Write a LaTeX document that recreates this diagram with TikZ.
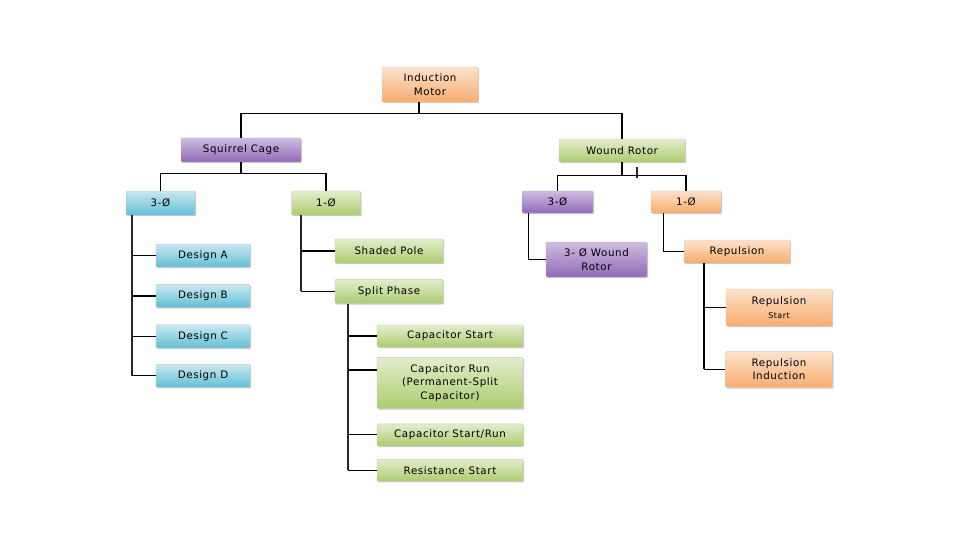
\documentclass[tikz,border=0pt]{standalone}
\usepackage{fontspec}
\setmainfont[LetterSpace=6]{DejaVu Sans}
\usepackage{tikz}
\usetikzlibrary{positioning, shadows}
\definecolor{OrangeBox}{RGB}{247,172,110}
\definecolor{PurpleBox}{RGB}{146,106,184}
\definecolor{BlueBox}{RGB}{98,190,214}
\definecolor{GreenBox}{RGB}{172,204,110}

\begin{document}
\begin{tikzpicture}[x=1pt, y=-1pt,
  box/.style={rounded corners=1pt, inner sep=1pt, align=center,
              font=\fontsize{10.3}{13.5}\selectfont,
              drop shadow={shadow xshift=1.2pt, shadow yshift=-1.2pt, opacity=0.4}},
  orangebox/.style={box, draw=OrangeBox!70!black!40, top color=OrangeBox!35, bottom color=OrangeBox},
  purplebox/.style={box, draw=PurpleBox!60!black!40, top color=PurpleBox!45, bottom color=PurpleBox},
  bluebox/.style={box, draw=BlueBox!60!black!40, top color=BlueBox!35, bottom color=BlueBox},
  greenbox/.style={box, draw=GreenBox!60!black!40, top color=GreenBox!35, bottom color=GreenBox},
  link/.style={draw=black, line width=1.2pt},
  trunk/.style={draw=black!85, line width=2pt},
]
\useasboundingbox (0,0) rectangle (960,540);

% top levels
\node[orangebox, minimum width=96pt, minimum height=35pt] (motor) at (430,84.5) {Induction\\Motor};
\node[purplebox, minimum width=120pt, minimum height=24pt] (squirrel) at (241,150) {Squirrel Cage};
\node[greenbox, minimum width=126pt, minimum height=23pt] (wound) at (622,150.5) {Wound Rotor};

% squirrel cage branch
\node[bluebox, minimum width=69pt, minimum height=24pt] (sq3) at (160.5,203) {3-Ø};
\node[greenbox, minimum width=69pt, minimum height=24pt] (sq1) at (326,203) {1-Ø};
\node[bluebox, minimum width=94pt, minimum height=23pt] (desA) at (203,255.5) {Design A};
\node[bluebox, minimum width=94pt, minimum height=23pt, below=17pt of desA] (desB) {Design B};
\node[bluebox, minimum width=94pt, minimum height=23pt, below=17pt of desB] (desC) {Design C};
\node[bluebox, minimum width=94pt, minimum height=23pt, below=16pt of desC] (desD) {Design D};
\node[greenbox, minimum width=108pt, minimum height=24pt] (shaded) at (389,251) {Shaded Pole};
\node[greenbox, minimum width=108pt, minimum height=24pt, below=16pt of shaded] (split) {Split Phase};
\node[greenbox, minimum width=146pt, minimum height=22pt] (capS) at (450,336) {Capacitor Start};
\node[greenbox, minimum width=146pt, minimum height=51pt, below=10pt of capS] (capR) {Capacitor Run\\(Permanent-Split\\Capacitor)};
\node[greenbox, minimum width=146pt, minimum height=22pt, below=15pt of capR] (capSR) {Capacitor Start/Run};
\node[greenbox, minimum width=146pt, minimum height=22pt, below=13pt of capSR] (resS) {Resistance Start};

% wound rotor branch
\node[purplebox, minimum width=71pt, minimum height=22pt] (w3) at (557.5,202) {3-Ø};
\node[orangebox, minimum width=70pt, minimum height=22pt] (w1) at (686,202) {1-Ø};
\node[purplebox, minimum width=101pt, minimum height=35pt] (w3r) at (596.5,259.5) {3- Ø Wound\\Rotor};
\node[orangebox, minimum width=106pt, minimum height=23pt] (rep) at (737,251.5) {Repulsion};
\node[orangebox, minimum width=106pt, minimum height=37pt] (repS) at (779,307.5) {Repulsion\\{\fontsize{8}{9}\selectfont Start}};
\node[orangebox, minimum width=107pt, minimum height=36pt, below=25pt of repS] (repI) {Repulsion\\Induction};

\draw[link] ([xshift=-11pt]motor.south) -- ++(0,11) -| (squirrel.north);
\draw[link] ([xshift=-11pt]motor.south) -- ++(0,11) -| (wound.north);
\draw[link] (squirrel.south) -- ++(0,11) -| (sq3.north);
\draw[link] (squirrel.south) -- ++(0,11) -| (sq1.north);
\draw[link] (wound.south) -- ++(0,13) -| (w3.north);
\draw[link] (wound.south) -- ++(0,13) -| (w1.north);
\draw[trunk] ([xshift=15pt]wound.south) ++(0,5) -- ++(0,11);

% stems
\coordinate (sq3t) at ([xshift=6pt]sq3.south west);
\draw[trunk] (sq3t) -- (sq3t |- desD.west);
\foreach \n in {desA,desB,desC,desD}
  \draw[link] (\n.west) -- (\n.west -| sq3t);

\coordinate (sq1t) at ([xshift=10pt]sq1.south west);
\draw[trunk] (sq1t) -- (sq1t |- split.west);
\foreach \n in {shaded,split}
  \draw[link] (\n.west) -- (\n.west -| sq1t);

\coordinate (spt) at ([xshift=13pt]split.south west);
\draw[trunk] (spt) -- (spt |- resS.west);
\foreach \n in {capS,capSR,resS}
  \draw[link] (\n.west) -- (\n.west -| spt);
\draw[link] ([yshift=13pt]capR.west) -- ([yshift=13pt]capR.west -| spt);

\draw[link] ([xshift=7pt]w3.south west) |- (w3r.west);
\draw[link] ([xshift=13pt]w1.south west) |- (rep.west);

\coordinate (rept) at ([xshift=20pt]rep.south west);
\draw[link, line width=1.6pt] (rept) -- (rept |- repI.west);
\foreach \n in {repS,repI}
  \draw[link] (\n.west) -- (\n.west -| rept);
\end{tikzpicture}
\end{document}
